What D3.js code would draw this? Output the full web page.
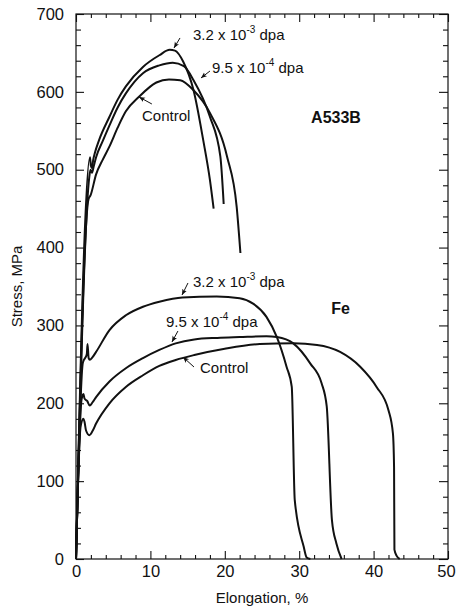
<!DOCTYPE html>
<html>
<head>
<meta charset="utf-8">
<script src="https://cdn.jsdelivr.net/npm/d3@7"></script>
<style>
  body { margin: 0; background: #fff; }
  svg { display: block; font-family: "Liberation Sans", Arial, sans-serif; }
  .curve { fill: none; stroke: #111; stroke-width: 2; stroke-linejoin: round; }
  .tick line { stroke: #111; stroke-width: 1.1; }
  .tick text { fill: #111; font-size: 16.5px; }
  .note { fill: #111; font-size: 15px; }
  .arrow { stroke: #111; stroke-width: 1; }
</style>
</head>
<body>
<script>
// chart data (elongation %, stress MPa)
var a533bControl = [[0,0],[1.68,462],[1.95,467],[2.7,494],[3.6,513],[4.5,530],[5.6,554],[6.7,575],[8.5,594],[10.8,612],[12.5,616],[14.0,615],[15.8,602],[18.0,573],[20.3,517],[21.6,452],[22.1,393]];
var a533bLow = [[0,0],[1.78,490],[1.95,500],[2.15,496],[2.4,505],[2.7,516],[3.6,537],[4.5,557],[5.6,580],[6.7,598],[9.0,624],[11.2,634],[13.0,637.5],[14.5,633],[15.8,615],[18.0,568],[19.4,517],[19.85,456]];
var a533bHigh = [[0,0],[1.88,516],[2.0,505],[2.15,502],[2.3,512],[2.55,522],[3.1,538],[4.5,568],[5.6,590],[6.7,607],[9.0,632],[11.2,647],[12.6,654],[13.3,653],[14.4,639],[15.8,602],[17.1,538],[18.0,487],[18.5,450]];
var feControl = [[0,0],[0.62,170],[1.0,180],[1.15,176],[1.35,165],[1.8,159],[2.2,164],[2.7,174],[4.5,200],[6.7,221],[9.0,236],[11.2,248],[13.4,255.6],[15.9,262],[20,270],[24.7,276],[29.2,277],[32.4,275],[35.5,266],[38.2,247],[40.4,221],[42.0,191],[42.6,161],[42.75,118],[42.8,12],[43.1,4],[43.5,0]];
var feLow = [[0,0],[0.75,205],[1.0,212],[1.15,206],[1.5,203],[1.85,197],[2.2,201],[2.7,208],[4.5,228],[6.7,245],[9.0,258],[11.2,268.5],[13.4,277],[15.9,282],[19,284],[22,285],[25.6,286],[27.0,285],[29.2,277],[31.5,251],[33.0,226],[33.7,196],[34.4,50],[35.0,20],[35.7,0]];
var feHigh = [[0,0],[0.92,252],[1.45,263],[1.55,276],[1.7,258],[1.85,256],[2.2,259],[2.7,266],[4.5,294],[6.7,313],[9.0,324],[11.2,330.5],[14.3,336],[18.9,337],[22,335],[23.8,328],[25.6,311],[27.0,285],[28.3,247],[29.0,221],[29.4,76],[30.6,16],[31.0,2],[31.5,0]];

var xMajor = [0, 10, 20, 30, 40, 50];
var yMajor = [0, 100, 200, 300, 400, 500, 600, 700];

// labels: text anchor and arrow (from, to) in data units
var notes = [
    { base: "3.2 x 10", sup: "-3", tail: " dpa", at: [15.73, 666.6], from: [13.98, 669.2], to: [13.17, 656.3] },
    { base: "9.5 x 10", sup: "-4", tail: " dpa", at: [18.28, 624.2], from: [18.01, 626.8], to: [16.8, 617.8] },
    { base: "Control", sup: "", tail: "", at: [8.87, 562.5], from: [10.2, 584.4], to: [8.47, 593.4] },
    { base: "3.2 x 10", sup: "-3", tail: " dpa", at: [15.73, 349.3], from: [15.05, 354.5], to: [14.25, 339.1] },
    { base: "9.5 x 10", sup: "-4", tail: " dpa", at: [12.1, 298], from: [13.7, 292.8], to: [12.9, 278.7] },
    { base: "Control", sup: "", tail: "", at: [16.67, 238.9], from: [15.86, 246.6], to: [14.38, 259.4] }
];
var materials = [
    { name: "A533B", at: [31.6, 560] },
    { name: "Fe", at: [34.3, 314.5] }
];

(function() {
    var width = 456, height = 614;
    var margin = { top: 14, right: 8, bottom: 55, left: 76 };
    var w = width - margin.left - margin.right;
    var h = height - margin.top - margin.bottom;

    var svg = d3.select("body").append("svg")
        .attr("width", width)
        .attr("height", height);

    svg.append("defs").append("marker")
        .attr("id", "head")
        .attr("markerUnits", "userSpaceOnUse")
        .attr("markerWidth", 7)
        .attr("markerHeight", 6)
        .attr("refX", 6)
        .attr("refY", 2.5)
        .attr("orient", "auto")
        .append("path")
        .attr("d", "M0,0 L6,2.5 L0,5 L1.5,2.5 Z")
        .attr("fill", "#111");

    var g = svg.append("g")
        .attr("transform", "translate(" + margin.left + "," + margin.top + ")");

    var x = d3.scaleLinear().domain([0, 50]).range([0, w]);
    var y = d3.scaleLinear().domain([0, 700]).range([h, 0]);

    var xMinor = d3.range(0, 51, 2).filter(function(v) { return v % 10 !== 0; });
    var yMinor = d3.range(0, 701, 20).filter(function(v) { return v % 100 !== 0; });

    // axes: ticks drawn inward on all four sides
    function addAxis(axis, values, size, labels, transform) {
        var a = g.append("g")
            .attr("transform", transform || null)
            .call(axis.tickValues(values).tickSize(size).tickPadding(labels ? labels : 0)
                .tickFormat(labels ? d3.format("d") : ""));
        a.select(".domain").remove();
        return a;
    }

    addAxis(d3.axisBottom(x), xMinor, -4, 0, "translate(0," + h + ")");
    var xAx = addAxis(d3.axisBottom(x), xMajor, -8, 6, "translate(0," + h + ")");
    xAx.selectAll(".tick text").filter(function(d) { return d === 50; }).attr("dx", -2);
    addAxis(d3.axisTop(x), xMinor, -4, 0);
    addAxis(d3.axisTop(x), xMajor, -8, 0);
    addAxis(d3.axisLeft(y), yMinor, -5, 0);
    addAxis(d3.axisLeft(y), yMajor, -8, 12);
    addAxis(d3.axisRight(y), yMinor, -5, 0, "translate(" + w + ",0)");
    addAxis(d3.axisRight(y), yMajor, -9, 0, "translate(" + w + ",0)");

    g.append("rect")
        .attr("width", w)
        .attr("height", h)
        .attr("fill", "none")
        .attr("stroke", "#111")
        .attr("stroke-width", 1.2);

    // axis titles
    svg.append("text")
        .attr("x", margin.left + w / 2)
        .attr("y", 603)
        .attr("text-anchor", "middle")
        .attr("font-size", 15)
        .attr("fill", "#111")
        .text("Elongation, %");

    svg.append("text")
        .attr("transform", "translate(21.5," + (margin.top + h / 2) + ") rotate(-90)")
        .attr("text-anchor", "middle")
        .attr("font-size", 15)
        .attr("fill", "#111")
        .text("Stress, MPa");

    // curves
    var line = d3.line()
        .x(function(d) { return x(d[0]); })
        .y(function(d) { return y(d[1]); })
        .curve(d3.curveMonotoneX);

    g.selectAll(".curve")
        .data([a533bControl, a533bLow, a533bHigh, feControl, feLow, feHigh])
        .enter().append("path")
        .attr("class", "curve")
        .attr("d", line);

    // annotations
    g.selectAll(".arrow")
        .data(notes)
        .enter().append("line")
        .attr("class", "arrow")
        .attr("x1", function(d) { return x(d.from[0]); })
        .attr("y1", function(d) { return y(d.from[1]); })
        .attr("x2", function(d) { return x(d.to[0]); })
        .attr("y2", function(d) { return y(d.to[1]); })
        .attr("marker-end", "url(#head)");

    var txt = g.selectAll(".note")
        .data(notes)
        .enter().append("text")
        .attr("class", "note")
        .attr("x", function(d) { return x(d.at[0]); })
        .attr("y", function(d) { return y(d.at[1]); });
    txt.append("tspan").text(function(d) { return d.base; });
    txt.filter(function(d) { return d.sup; }).append("tspan")
        .attr("dy", -7)
        .attr("font-size", 10)
        .text(function(d) { return d.sup; });
    txt.filter(function(d) { return d.sup; }).append("tspan")
        .attr("dy", 7)
        .text(function(d) { return d.tail; });

    g.selectAll(".material")
        .data(materials)
        .enter().append("text")
        .attr("class", "material")
        .attr("x", function(d) { return x(d.at[0]); })
        .attr("y", function(d) { return y(d.at[1]); })
        .attr("font-size", 16)
        .attr("font-weight", "bold")
        .attr("fill", "#111")
        .text(function(d) { return d.name; });
})();
</script>
</body>
</html>
